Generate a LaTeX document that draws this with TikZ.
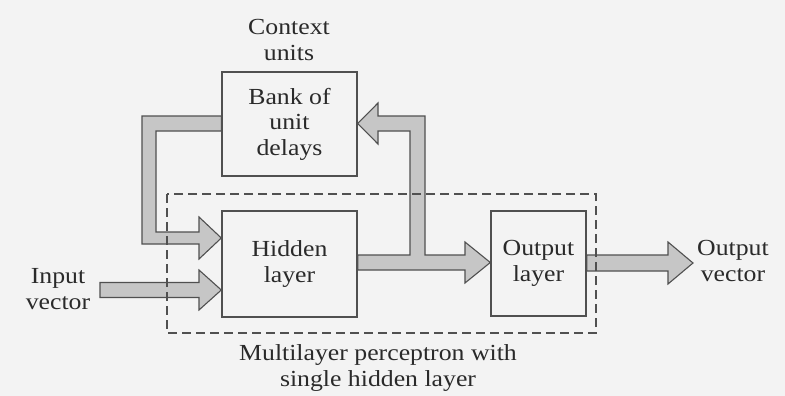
\documentclass[tikz,border=0pt]{standalone}
\usepackage{fontspec}
\setmainfont{Liberation Serif}[FakeStretch=1.12]
\usetikzlibrary{calc}
\definecolor{bgc}{HTML}{F3F3F3}
\definecolor{inkc}{HTML}{2A2A2A}
\definecolor{linec}{HTML}{505050}
\definecolor{fillc}{HTML}{C6C6C6}
\begin{document}
\begin{tikzpicture}[x=1pt,y=-1pt,
  lbl/.style={text=inkc,font=\fontsize{23}{25.5}\selectfont,align=center,inner sep=0},
  blk/.style={lbl,draw=linec,line width=1.4pt,fill=none,minimum width=#1,inner sep=0},
  fat/.style={draw=linec,fill=fillc,line width=1.1pt,line join=miter},
  dashbox/.style={draw=linec,line width=1.2pt,dash pattern=on 9pt off 5pt}]
\fill[bgc] (0,0) rectangle (785,396);
\useasboundingbox (0,0) rectangle (785,396);
% blocks
\node[blk=135pt,minimum height=104pt] (bank) at (289.5,124) {Bank of\\unit\\delays};
\node[blk=135pt,minimum height=106pt] (hid) at (289.5,264) {Hidden\\layer};
\node[blk=95pt,minimum height=105pt] (out) at (538.5,263.5) {Output\\layer};
% labels
\node[lbl] (ctx) at (289,40) {Context\\units};
\node[lbl] (inp) at (58,289) {Input\\vector};
\node[lbl] (outv) at (733,261) {Output\\vector};
\node[lbl] (mlp) at (378,368) {Multilayer perceptron with\\single hidden layer};
% input arrow
\draw[fat] (100,282.5) -- (199,282.5) -- (199,270) -- (hid.west |- 0,290) -- (199,310) -- (199,297.5) -- (100,297.5) -- cycle;
% feedback from bank to hidden
\draw[fat] (bank.west |- 0,116) -- (142,116) -- (142,244) -- (199,244) -- (199,259) -- (hid.west |- 0,238) -- (199,217) -- (199,232) -- (156,232) -- (156,131) -- (bank.west |- 0,131) -- cycle;
% hidden to output with branch to bank
\draw[fat] (hid.east |- 0,255) -- (410,255) -- (410,131) -- (378,131) -- (378,144) -- (bank.east |- 0,123.5) -- (378,103) -- (378,116) -- (425,116) -- (425,255) -- (465,255) -- (465,242) -- (out.west |- 0,262.5) -- (465,283) -- (465,270) -- (hid.east |- 0,270) -- cycle;
% output arrow
\draw[fat] (out.east |- 0,255) -- (668,255) -- (668,242) -- (693,263) -- (668,284) -- (668,271) -- (out.east |- 0,271) -- cycle;
% redraw box outlines on top
\draw[linec,line width=1.4pt] (bank.south west) rectangle (bank.north east);
\draw[linec,line width=1.4pt] (hid.south west) rectangle (hid.north east);
\draw[linec,line width=1.4pt] (out.south west) rectangle (out.north east);
% dashed MLP boundary
\draw[dashbox] (167,194) rectangle (596,333);
\end{tikzpicture}
\end{document}
